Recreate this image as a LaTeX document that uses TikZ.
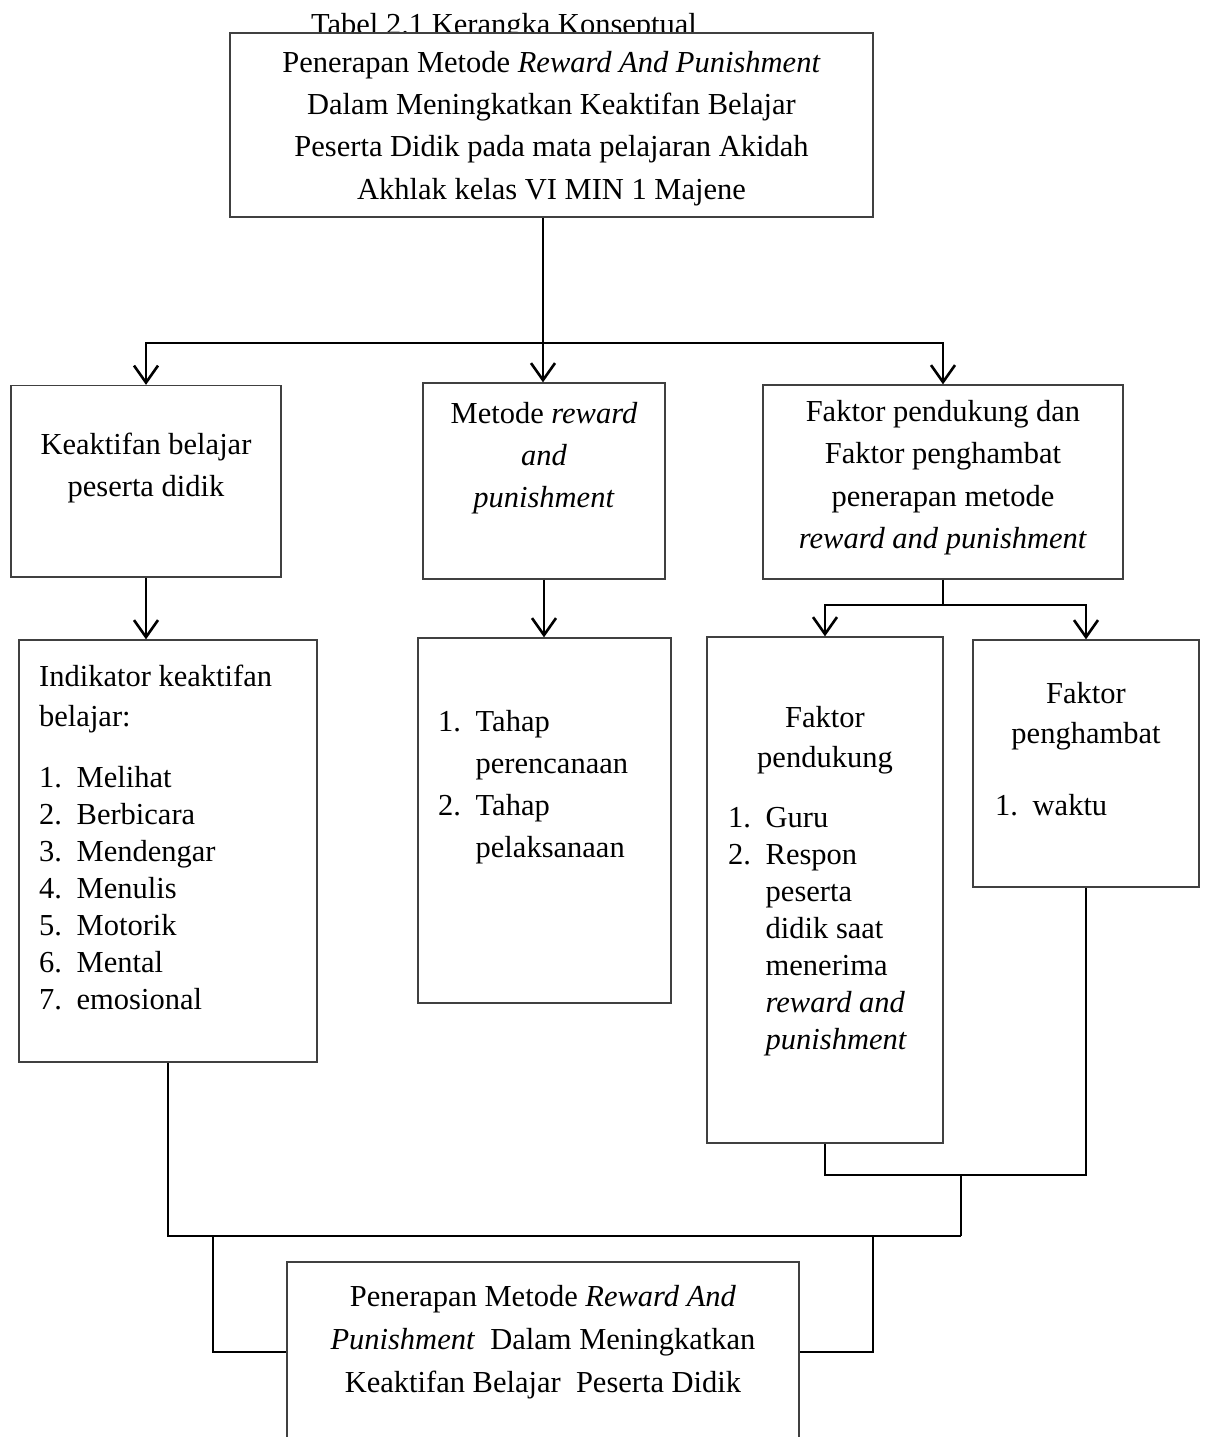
\documentclass[tikz,border=0pt]{standalone}
\usepackage{fontspec}
\setmainfont{Liberation Serif}
\usetikzlibrary{arrows.meta}
\tikzset{
  box/.style={draw=black!75, line width=1.3pt, fill=white, rectangle, inner sep=0pt},
  conn/.style={line width=2.6pt, black},
  arr/.style={conn, -{Straight Barb[length=17pt,width=24pt]}},
  txt/.style={inner sep=0pt, anchor=base},
  txtl/.style={inner sep=0pt, anchor=base west},
}
\newcommand\blk[3]{\parbox[t]{#1}{\fontsize{30.5}{#2}\selectfont #3}}
\newcommand\itm[1]{\makebox[37.5pt][l]{#1}}
\newcommand\ind{\hspace*{37.5pt}}
\begin{document}
\begin{tikzpicture}[x=1pt,y=-1pt]
\useasboundingbox (0,0) rectangle (1208,1437);
\clip (0,0) rectangle (1208,1437);
\fill[white] (0,0) rectangle (1208,1437);

% title (partly covered by the top box)
\node[txt] (tt) at (504,35) {\fontsize{30.5}{36}\selectfont Tabel 2.1 Kerangka Konseptual};

% boxes
\node[box, minimum width=643pt, minimum height=184pt] (b0) at (551.5,125) {};
\node[box, minimum width=270pt, minimum height=191.5pt] (b1) at (146,481.25) {};
\node[box, minimum width=242pt, minimum height=196pt] (b2) at (544,481) {};
\node[box, minimum width=360pt, minimum height=194pt] (b3) at (943,482) {};
\node[box, minimum width=298pt, minimum height=422pt] (b4) at (168,851) {};
\node[box, minimum width=253pt, minimum height=365pt] (b5) at (544.5,820.5) {};
\node[box, minimum width=236pt, minimum height=506pt] (b6) at (825,890) {};
\node[box, minimum width=226pt, minimum height=247pt] (b7) at (1086,763.5) {};
\node[box, minimum width=512pt, minimum height=180pt] (b8) at (543,1352) {};

% texts
\node[txt] (t0) at (551.5,72) {\blk{640pt}{42.5pt}{\centering Penerapan Metode \textit{Reward And Punishment}\\ Dalam Meningkatkan Keaktifan Belajar\\ Peserta Didik pada mata pelajaran Akidah\\ Akhlak kelas VI MIN 1 Majene}};
\node[txt] (t1) at (146,454) {\blk{265pt}{42.5pt}{\centering Keaktifan belajar\\ peserta didik}};
\node[txt] (t2) at (544,423) {\blk{240pt}{42pt}{\centering Metode \textit{reward}\\ \textit{and}\\ \textit{punishment}}};
\node[txt] (t3) at (943,421) {\blk{355pt}{42.6pt}{\centering Faktor pendukung dan\\ Faktor penghambat\\ penerapan metode\\ \textit{reward and punishment}}};
\node[txtl] (t4) at (39,686) {\blk{275pt}{37pt}{\raggedright Indikator keaktifan\\[3pt] belajar:\\[24pt] \itm{1.}Melihat\\ \itm{2.}Berbicara\\ \itm{3.}Mendengar\\ \itm{4.}Menulis\\ \itm{5.}Motorik\\ \itm{6.}Mental\\ \itm{7.}emosional}};
\node[txtl] (t5) at (438,731) {\blk{230pt}{42pt}{\raggedright \itm{1.}Tahap\\ \ind perencanaan\\ \itm{2.}Tahap\\ \ind pelaksanaan}};
\node[txt] (t6a) at (825,727) {\blk{230pt}{40pt}{\centering Faktor\\ pendukung}};
\node[txtl] (t6b) at (728,827) {\blk{212pt}{37pt}{\raggedright \itm{1.}Guru\\ \itm{2.}Respon\\ \ind peserta\\ \ind didik saat\\ \ind menerima\\ \ind \textit{reward and}\\ \ind \textit{punishment}}};
\node[txt] (t7a) at (1086,703) {\blk{220pt}{40pt}{\centering Faktor\\ penghambat}};
\node[txtl] (t7b) at (995,815) {\blk{195pt}{37pt}{\raggedright \itm{1.}waktu}};
\node[txt] (t8) at (543,1306) {\blk{505pt}{43pt}{\centering Penerapan Metode \textit{Reward And}\\ \textit{Punishment}\ \ Dalam Meningkatkan\\ Keaktifan Belajar\ \ Peserta Didik}};

% connectors
\coordinate (j0) at (543,343);
\draw[arr] (b0.south -| j0) -- (j0 |- b2.north);
\draw[arr] (j0) -| (b1.north);
\draw[arr] (j0) -| (b3.north);
\draw[arr] (b1.south) -- (b1.south |- b4.north);
\draw[arr] (b2.south) -- (b2.south |- b5.north);
\coordinate (j1) at (943,605);
\draw[conn] (b3.south) -- (j1);
\draw[arr] (j1) -| (b6.north);
\draw[arr] (j1) -| (b7.north);
\coordinate (j3) at (961,1175);
\coordinate (j4) at (961,1236);
\draw[conn] (b6.south) |- (j3) -| (b7.south);
\draw[conn] (j3) -- (j4);
\draw[conn] (b4.south) |- (j4);
\coordinate (j5) at (213,1236);
\coordinate (j6) at (873,1236);
\draw[conn] (j5) |- (b8.west);
\draw[conn] (j6) |- (b8.east);
\end{tikzpicture}
\end{document}
